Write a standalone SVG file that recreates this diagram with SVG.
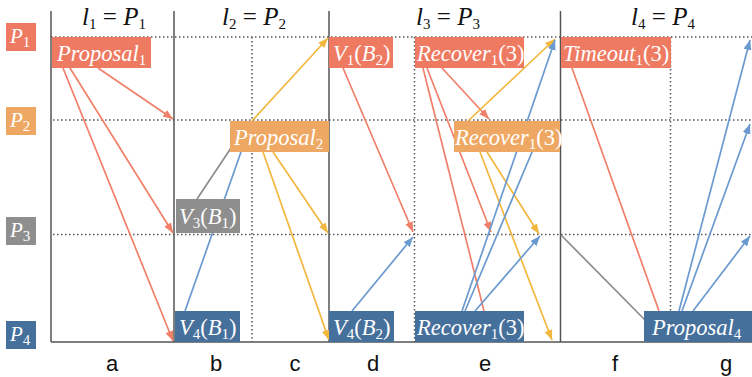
<svg xmlns="http://www.w3.org/2000/svg" width="752" height="377" viewBox="0 0 752 377">
<style>
.sol{stroke:#555;stroke-width:1.5;fill:none}
.dot{stroke:#555;stroke-width:1.5;stroke-dasharray:1.5 2.5;fill:none}
.r{stroke:#F0806A;stroke-width:1.7;fill:none}
.y{stroke:#F2B73F;stroke-width:1.7;fill:none}
.b{stroke:#6B9AD0;stroke-width:1.7;fill:none}
.g{stroke:#8C8C8C;stroke-width:1.7;fill:none}
.cr{fill:#EF7A62}.co{fill:#EFA863}.cg{fill:#8E8E8E}.cb{fill:#46709C}
.nt{font-family:"Liberation Serif","DejaVu Serif",serif;font-style:italic;font-size:22.5px;fill:#fff}
.up{font-style:normal}
.sb{font-style:normal;font-size:15px}
.hd{font-family:"Liberation Serif","DejaVu Serif",serif;font-style:italic;font-size:25px;fill:#111}
.pl{font-family:"Liberation Serif","DejaVu Serif",serif;font-style:italic;font-size:21px;fill:#fff}
.ax{font-family:"Liberation Sans",Arial,sans-serif;font-size:22px;fill:#111}
</style>
<defs>
<marker id="ar" markerUnits="userSpaceOnUse" markerWidth="10" markerHeight="8" refX="10" refY="4" orient="auto"><path d="M0,0 L10,4 L0,8 z" fill="#F0806A"/></marker>
<marker id="ay" markerUnits="userSpaceOnUse" markerWidth="10" markerHeight="8" refX="10" refY="4" orient="auto"><path d="M0,0 L10,4 L0,8 z" fill="#F2B73F"/></marker>
<marker id="ab" markerUnits="userSpaceOnUse" markerWidth="10" markerHeight="8" refX="10" refY="4" orient="auto"><path d="M0,0 L10,4 L0,8 z" fill="#6B9AD0"/></marker>
</defs>
<rect width="752" height="377" fill="#fff"/>
<g id="grid">
<line class="dot" x1="51" y1="37" x2="752" y2="37"/>
<line class="dot" x1="53" y1="120" x2="752" y2="120"/>
<line class="dot" x1="53" y1="234.5" x2="752" y2="234.5"/>
<line class="dot" x1="252" y1="37" x2="252" y2="342"/>
<line class="dot" x1="414.5" y1="37" x2="414.5" y2="342"/>
<line class="dot" x1="670.5" y1="37" x2="670.5" y2="342"/>
<line class="sol" x1="51" y1="11" x2="51" y2="342"/>
<line class="sol" x1="174" y1="11" x2="174" y2="342"/>
<line class="sol" x1="329" y1="11" x2="329" y2="342"/>
<line class="sol" x1="560.5" y1="11" x2="560.5" y2="342"/>
<line class="sol" x1="51" y1="342" x2="752" y2="342"/>
</g>
<g id="headers">
<text class="hd" x="114" y="25" text-anchor="middle">l<tspan class="sb" font-size="16" dy="4">1</tspan><tspan class="up" dy="-4"> = </tspan>P<tspan class="sb" font-size="16" dy="4">1</tspan></text>
<text class="hd" x="254" y="25" text-anchor="middle">l<tspan class="sb" font-size="16" dy="4">2</tspan><tspan class="up" dy="-4"> = </tspan>P<tspan class="sb" font-size="16" dy="4">2</tspan></text>
<text class="hd" x="448" y="25" text-anchor="middle">l<tspan class="sb" font-size="16" dy="4">3</tspan><tspan class="up" dy="-4"> = </tspan>P<tspan class="sb" font-size="16" dy="4">3</tspan></text>
<text class="hd" x="663" y="25" text-anchor="middle">l<tspan class="sb" font-size="16" dy="4">4</tspan><tspan class="up" dy="-4"> = </tspan>P<tspan class="sb" font-size="16" dy="4">4</tspan></text>
</g>
<g id="rowlabels">
<g id="P1"><rect class="cr" x="6" y="23" width="30" height="28"/><text class="pl" x="10" y="43">P<tspan class="sb" font-size="14" dy="4">1</tspan></text></g>
<g id="P2"><rect class="co" x="6" y="107" width="30" height="28"/><text class="pl" x="10" y="127">P<tspan class="sb" font-size="14" dy="4">2</tspan></text></g>
<g id="P3"><rect class="cg" x="6" y="217" width="30" height="28"/><text class="pl" x="10" y="237">P<tspan class="sb" font-size="14" dy="4">3</tspan></text></g>
<g id="P4"><rect class="cb" x="6" y="321" width="30" height="28"/><text class="pl" x="10" y="341">P<tspan class="sb" font-size="14" dy="4">4</tspan></text></g>
</g>
<g id="axis">
<text class="ax" x="112" y="371" text-anchor="middle">a</text>
<text class="ax" x="216" y="371" text-anchor="middle">b</text>
<text class="ax" x="295" y="371" text-anchor="middle">c</text>
<text class="ax" x="373" y="371" text-anchor="middle">d</text>
<text class="ax" x="485" y="371" text-anchor="middle">e</text>
<text class="ax" x="615" y="371" text-anchor="middle">f</text>
<text class="ax" x="726" y="371" text-anchor="middle">g</text>
</g>
<g id="connectors">
<line class="r" x1="98" y1="68" x2="173" y2="119" marker-end="url(#ar)"/>
<line class="r" x1="70" y1="68" x2="173" y2="233" marker-end="url(#ar)"/>
<line class="r" x1="63" y1="68" x2="173" y2="341" marker-end="url(#ar)"/>
<line class="r" x1="343" y1="68" x2="413" y2="232" marker-end="url(#ar)"/>
<line class="r" x1="442" y1="68" x2="489" y2="119" marker-end="url(#ar)"/>
<line class="r" x1="427" y1="68" x2="491" y2="232" marker-end="url(#ar)"/>
<line class="r" x1="423" y1="68" x2="484" y2="311"/>
<line class="r" x1="572" y1="68" x2="659" y2="311"/>
<line class="y" x1="252" y1="121" x2="328" y2="38" marker-end="url(#ay)"/>
<line class="y" x1="273" y1="152" x2="328" y2="233" marker-end="url(#ay)"/>
<line class="y" x1="263" y1="152" x2="329" y2="340" marker-end="url(#ay)"/>
<line class="y" x1="468" y1="121" x2="555" y2="39" marker-end="url(#ay)"/>
<line class="y" x1="487" y1="152" x2="539" y2="234" marker-end="url(#ay)"/>
<line class="y" x1="480" y1="152" x2="552" y2="340" marker-end="url(#ay)"/>
<line class="b" x1="185" y1="311" x2="241" y2="152"/>
<line class="b" x1="352" y1="311" x2="413" y2="237" marker-end="url(#ab)"/>
<line class="b" x1="462" y1="311" x2="555" y2="40" marker-end="url(#ab)"/>
<line class="b" x1="465" y1="311" x2="535" y2="145"/>
<line class="b" x1="475" y1="311" x2="540" y2="236" marker-end="url(#ab)"/>
<line class="b" x1="679" y1="311" x2="750" y2="40" marker-end="url(#ab)"/>
<line class="b" x1="682" y1="311" x2="750" y2="124" marker-end="url(#ab)"/>
<line class="b" x1="693" y1="311" x2="750" y2="236" marker-end="url(#ab)"/>
<line class="g" x1="197" y1="199" x2="231" y2="148"/>
<line class="g" x1="561" y1="235" x2="645" y2="320"/>
</g>
<g id="proposal1"><rect class="cr" x="52" y="37" width="99" height="31"/><text class="nt" x="57" y="61">Proposal<tspan class="sb" dy="4">1</tspan></text></g>
<g id="v3b1"><rect class="cg" x="176" y="199" width="64" height="34"/><text class="nt" x="179" y="224">V<tspan class="sb" dy="4">3</tspan><tspan class="up" dy="-4">(</tspan>B<tspan class="sb" dy="4">1</tspan><tspan class="up" dy="-4">)</tspan></text></g>
<g id="v4b1"><rect class="cb" x="175" y="311" width="65" height="31"/><text class="nt" x="179" y="335">V<tspan class="sb" dy="4">4</tspan><tspan class="up" dy="-4">(</tspan>B<tspan class="sb" dy="4">1</tspan><tspan class="up" dy="-4">)</tspan></text></g>
<g id="proposal2"><rect class="co" x="230" y="121" width="99" height="31"/><text class="nt" x="234" y="145">Proposal<tspan class="sb" dy="4">2</tspan></text></g>
<g id="v1b2"><rect class="cr" x="329" y="37" width="64" height="31"/><text class="nt" x="333" y="61">V<tspan class="sb" dy="4">1</tspan><tspan class="up" dy="-4">(</tspan>B<tspan class="sb" dy="4">2</tspan><tspan class="up" dy="-4">)</tspan></text></g>
<g id="v4b2"><rect class="cb" x="329" y="311" width="65" height="31"/><text class="nt" x="333" y="335">V<tspan class="sb" dy="4">4</tspan><tspan class="up" dy="-4">(</tspan>B<tspan class="sb" dy="4">2</tspan><tspan class="up" dy="-4">)</tspan></text></g>
<g id="recover-r"><rect class="cr" x="415" y="37" width="109" height="31"/><text class="nt" x="417" y="61">Recover<tspan class="sb" dy="4">1</tspan><tspan class="up" dy="-4">(3)</tspan></text></g>
<g id="recover-o"><rect class="co" x="454" y="121" width="106" height="31"/><text class="nt" x="455" y="145" font-size="21.5">Recover<tspan class="sb" dy="4">1</tspan><tspan class="up" dy="-4">(3)</tspan></text></g>
<g id="recover-b"><rect class="cb" x="415" y="311" width="109" height="31"/><text class="nt" x="417" y="335">Recover<tspan class="sb" dy="4">1</tspan><tspan class="up" dy="-4">(3)</tspan></text></g>
<g id="timeout1"><rect class="cr" x="561" y="37" width="110" height="31"/><text class="nt" x="563" y="61">Timeout<tspan class="sb" dy="4">1</tspan><tspan class="up" dy="-4">(3)</tspan></text></g>
<g id="proposal4"><rect class="cb" x="644" y="311" width="108" height="31"/><text class="nt" x="652" y="335">Proposal<tspan class="sb" dy="4">4</tspan></text></g>
</svg>
